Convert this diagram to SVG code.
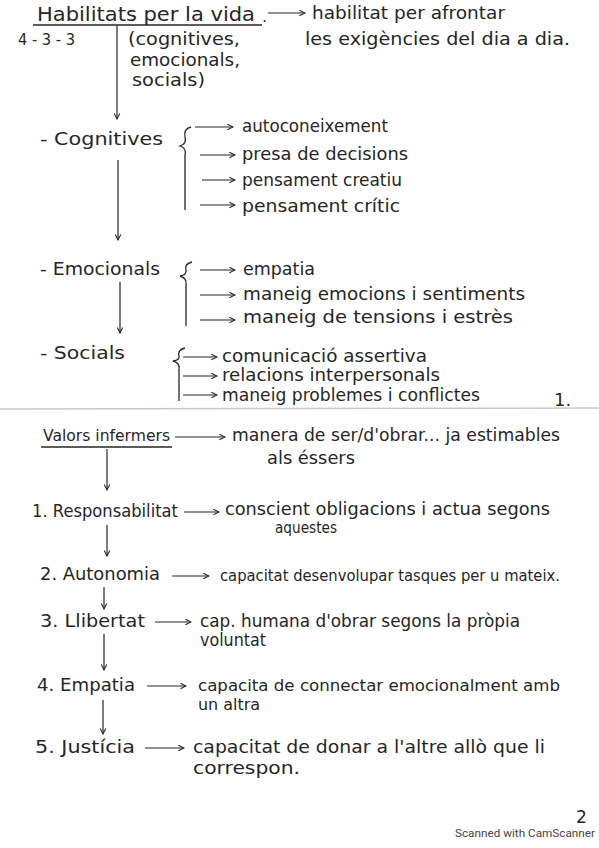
<svg xmlns="http://www.w3.org/2000/svg" width="599" height="848" viewBox="0 0 599 848">
<style>
text{font-family:"DejaVu Sans","Liberation Sans",sans-serif;font-size:16px;fill:#262626}
.s15{font-size:15px}
.s17{font-size:17px}
.s18{font-size:18px}
.s19{font-size:19px}
.l{stroke:#262626;stroke-width:1.3;fill:none}
.c{stroke:#262626;stroke-width:1.2;fill:none;marker-end:url(#ah)}
.sep{stroke:#c8c8c8;stroke-width:1.5}
.sm{font-family:"Roboto","Liberation Sans",sans-serif;font-size:10.5px;fill:#444}
</style>
<defs>
<marker id="ah" viewBox="0 0 10 10" refX="9" refY="5" markerWidth="7" markerHeight="7" orient="auto" markerUnits="userSpaceOnUse">
<path d="M1,1 L9,5 L1,9" fill="none" stroke="#262626" stroke-width="1.5"/>
</marker>
</defs>
<rect width="599" height="848" fill="#ffffff"/>

<g id="connectors">
<line class="c" x1="117" y1="26" x2="117" y2="119"/>
<line class="c" x1="268" y1="13" x2="305" y2="13"/>
<line class="c" x1="195" y1="127" x2="233" y2="127"/>
<line class="c" x1="200" y1="155" x2="235" y2="155"/>
<line class="c" x1="202" y1="180" x2="235" y2="180"/>
<line class="c" x1="200" y1="205" x2="235" y2="205"/>
<line class="c" x1="118" y1="160" x2="118" y2="240"/>
<line class="c" x1="200" y1="270" x2="235" y2="270"/>
<line class="c" x1="200" y1="295" x2="235" y2="295"/>
<line class="c" x1="200" y1="320" x2="235" y2="320"/>
<line class="c" x1="120" y1="282" x2="120" y2="333"/>
<line class="c" x1="183" y1="357" x2="217" y2="357"/>
<line class="c" x1="183" y1="376" x2="217" y2="376"/>
<line class="c" x1="183" y1="395" x2="217" y2="395"/>
<line class="c" x1="175" y1="437" x2="225" y2="437"/>
<line class="c" x1="107" y1="449" x2="107" y2="490"/>
<line class="c" x1="184" y1="512" x2="219" y2="512"/>
<line class="c" x1="107" y1="525" x2="107" y2="556"/>
<line class="c" x1="172" y1="576" x2="209" y2="576"/>
<line class="c" x1="104" y1="587" x2="104" y2="609"/>
<line class="c" x1="155" y1="622" x2="191" y2="622"/>
<line class="c" x1="104" y1="634" x2="104" y2="670"/>
<line class="c" x1="147" y1="686" x2="186" y2="686"/>
<line class="c" x1="103" y1="700" x2="103" y2="734"/>
<line class="c" x1="145" y1="748" x2="184" y2="748"/>
</g>

<g id="habilitats">
<text class="s19" x="37" y="21" textLength="218" lengthAdjust="spacingAndGlyphs">Habilitats per la vida</text>
<line class="l" x1="33" y1="25" x2="262" y2="25"/>
<text x="262" y="22">.</text>
<text class="s18" x="312" y="19" textLength="193" lengthAdjust="spacingAndGlyphs">habilitat per afrontar</text>
<text class="s18" x="305" y="45" textLength="265" lengthAdjust="spacingAndGlyphs">les exigències del dia a dia.</text>
</g>
<g id="n433"><text class="s15" x="18" y="45" textLength="57" lengthAdjust="spacingAndGlyphs">4 - 3 - 3</text></g>
<g id="tipus">
<text class="s17" x="128" y="45" textLength="112" lengthAdjust="spacingAndGlyphs">(cognitives,</text>
<text class="s17" x="130" y="66" textLength="110" lengthAdjust="spacingAndGlyphs">emocionals,</text>
<text class="s17" x="132" y="86" textLength="73" lengthAdjust="spacingAndGlyphs">socials)</text>
</g>

<g id="cognitives">
<text class="s18" x="40" y="145" textLength="123" lengthAdjust="spacingAndGlyphs">- Cognitives</text>
<path class="l" d="M191,127 Q183,129 185,137 Q187,144 180,146 Q187,148 185,156 L185,210"/>
<text class="s17" x="242" y="132" textLength="146" lengthAdjust="spacingAndGlyphs">autoconeixement</text>
<text class="s17" x="242" y="160" textLength="166" lengthAdjust="spacingAndGlyphs">presa de decisions</text>
<text class="s17" x="242" y="186" textLength="160" lengthAdjust="spacingAndGlyphs">pensament creatiu</text>
<text class="s17" x="242" y="212" textLength="158" lengthAdjust="spacingAndGlyphs">pensament crític</text>
</g>

<g id="emocionals">
<text class="s18" x="40" y="275" textLength="120" lengthAdjust="spacingAndGlyphs">- Emocionals</text>
<path class="l" d="M192,262 Q184,264 186,270 Q187,275 180,276 Q187,278 186,284 L186,326"/>
<text class="s17" x="243" y="275" textLength="72" lengthAdjust="spacingAndGlyphs">empatia</text>
<text class="s17" x="243" y="300" textLength="282" lengthAdjust="spacingAndGlyphs">maneig emocions i sentiments</text>
<text class="s17" x="243" y="323" textLength="270" lengthAdjust="spacingAndGlyphs">maneig de tensions i estrès</text>
</g>

<g id="socials">
<text class="s18" x="40" y="359" textLength="85" lengthAdjust="spacingAndGlyphs">- Socials</text>
<path class="l" d="M185,348 Q177,350 179,356 Q180,360 173,361 Q180,363 179,368 L179,401"/>
<text class="s17" x="222" y="362" textLength="205" lengthAdjust="spacingAndGlyphs">comunicació assertiva</text>
<text class="s17" x="222" y="381" textLength="218" lengthAdjust="spacingAndGlyphs">relacions interpersonals</text>
<text class="s17" x="222" y="401" textLength="258" lengthAdjust="spacingAndGlyphs">maneig problemes i conflictes</text>
</g>
<g id="pag1"><text class="s18" x="554" y="406">1.</text></g>

<line class="sep" x1="0" y1="409" x2="599" y2="408"/>

<g id="valors">
<text x="43" y="441" textLength="127" lengthAdjust="spacingAndGlyphs">Valors infermers</text>
<line class="l" x1="41" y1="447" x2="172" y2="447"/>
<text class="s17" x="232" y="441" textLength="328" lengthAdjust="spacingAndGlyphs">manera de ser/d'obrar... ja estimables</text>
<text class="s17" x="267" y="464" textLength="88" lengthAdjust="spacingAndGlyphs">als éssers</text>
</g>

<g id="responsabilitat">
<text class="s17" x="32" y="517" textLength="146" lengthAdjust="spacingAndGlyphs">1. Responsabilitat</text>
<text class="s17" x="225" y="515" textLength="325" lengthAdjust="spacingAndGlyphs">conscient obligacions i actua segons</text>
<text class="s15" x="275" y="533" textLength="62" lengthAdjust="spacingAndGlyphs">aquestes</text>
</g>

<g id="autonomia">
<text class="s17" x="40" y="580" textLength="120" lengthAdjust="spacingAndGlyphs">2. Autonomia</text>
<text class="s15" x="220" y="581" textLength="340" lengthAdjust="spacingAndGlyphs">capacitat desenvolupar tasques per u mateix.</text>
</g>

<g id="llibertat">
<text class="s18" x="40" y="627" textLength="105" lengthAdjust="spacingAndGlyphs">3. Llibertat</text>
<text class="s17" x="200" y="627" textLength="320" lengthAdjust="spacingAndGlyphs">cap. humana d'obrar segons la pròpia</text>
<text class="s17" x="200" y="646" textLength="66" lengthAdjust="spacingAndGlyphs">voluntat</text>
</g>

<g id="empatia">
<text class="s17" x="37" y="691" textLength="98" lengthAdjust="spacingAndGlyphs">4. Empatia</text>
<text x="198" y="691" textLength="362" lengthAdjust="spacingAndGlyphs">capacita de connectar emocionalment amb</text>
<text x="198" y="710" textLength="62" lengthAdjust="spacingAndGlyphs">un altra</text>
</g>

<g id="justicia">
<text class="s18" x="35" y="753" textLength="100" lengthAdjust="spacingAndGlyphs">5. Justícia</text>
<text class="s18" x="193" y="753" textLength="352" lengthAdjust="spacingAndGlyphs">capacitat de donar a l'altre allò que li</text>
<text class="s18" x="193" y="774" textLength="107" lengthAdjust="spacingAndGlyphs">correspon.</text>
</g>

<g id="footer">
<text x="576" y="823" style="font-size:17px">2</text>
<text class="sm" x="455" y="837" textLength="140" lengthAdjust="spacingAndGlyphs">Scanned with CamScanner</text>
</g>
</svg>
